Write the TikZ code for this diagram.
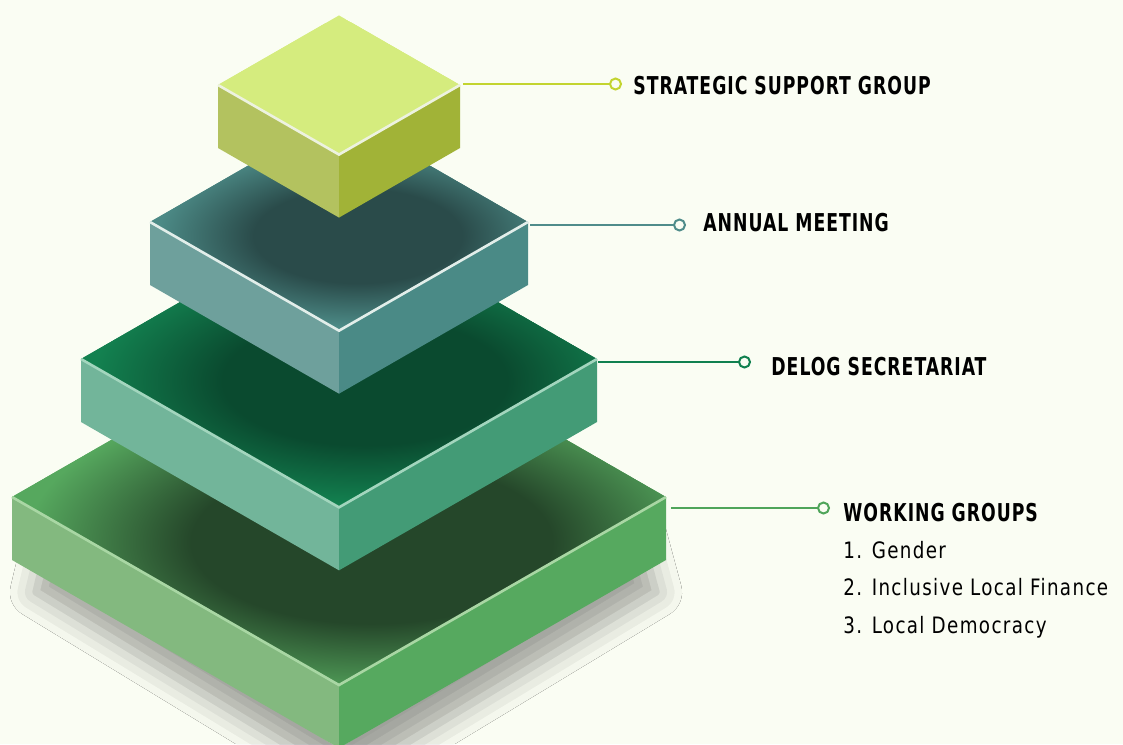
\documentclass[tikz,border=0pt]{standalone}
\usepackage{fontspec}
\setmainfont{DejaVu Sans Condensed}
\newfontfamily\headfont[LetterSpace=4,FakeStretch=0.78]{DejaVu Sans Condensed}
\newfontfamily\itemfont[LetterSpace=6,FakeStretch=0.9]{DejaVu Sans Condensed}
\usetikzlibrary{positioning,shadows.blur}

\definecolor{paper}{HTML}{FAFDF3}
% top slab
\definecolor{yeltop}{HTML}{D5EC7E}
\definecolor{yeldark}{HTML}{D5EC7E}
\definecolor{yelleft}{HTML}{B3C25F}
\definecolor{yelright}{HTML}{A1B337}
\definecolor{yeledge}{HTML}{EDF2E0}
\definecolor{yelline}{HTML}{C3D42F}
% second slab
\definecolor{teatop}{HTML}{4C8A86}
\definecolor{teadark}{HTML}{2A4B4A}
\definecolor{tealeft}{HTML}{6EA09C}
\definecolor{tearight}{HTML}{4A8A86}
\definecolor{teaedge}{HTML}{E2EEEA}
\definecolor{tealine}{HTML}{4F8C8A}
% third slab
\definecolor{dgrtop}{HTML}{138150}
\definecolor{dgrdark}{HTML}{0A4A2F}
\definecolor{dgrleft}{HTML}{72B59A}
\definecolor{dgrright}{HTML}{439B76}
\definecolor{dgredge}{HTML}{A3D6BE}
\definecolor{dgrline}{HTML}{10804F}
% base slab
\definecolor{lgrtop}{HTML}{56A85E}
\definecolor{lgrdark}{HTML}{25472A}
\definecolor{lgrleft}{HTML}{83B97F}
\definecolor{lgrright}{HTML}{56A95F}
\definecolor{lgredge}{HTML}{A9D7A4}
\definecolor{lgrline}{HTML}{4FA55A}

% the path's edge sits at 25bp of the shading
\pgfdeclareradialshading[glowdark,glowbase]{slabglow}{\pgfpoint{0bp}{0bp}}{%
  color(0bp)=(glowdark); color(12bp)=(glowdark); color(23bp)=(glowbase); color(50bp)=(glowbase)}

% isometric slab: #1 centre y, #2 half width, #3 colour prefix, #4 glow offset
\newcommand{\isoslab}[4]{%
  \pgfmathsetmacro{\hh}{0.575*#2}
  \coordinate (#3-l) at (339-#2,#1);
  \coordinate (#3-b) at (339,#1-\hh);
  \coordinate (#3-r) at (339+#2,#1);
  \coordinate (#3-f) at (339,#1+\hh);
  \fill[#3left] (#3-l) -- (#3-f) -- ++(0,63) -- (339-#2,#1+63) -- cycle;
  \fill[#3right] (#3-f) -- (#3-r) -- ++(0,63) -- (339,#1+\hh+63) -- cycle;
  \begin{scope}
    \clip (#3-l) -- (#3-b) -- (#3-r) -- (#3-f) -- cycle;
    \fill[#3top] (#3-l) -- (#3-b) -- (#3-r) -- (#3-f) -- cycle;
    \colorlet{glowdark}{#3dark}\colorlet{glowbase}{#3top}
    \shade[shading=slabglow] (339+0.1*#2,#1+#4) ellipse [x radius={0.575*#2 pt}, y radius={0.26*#2 pt}];
  \end{scope}
  \draw[#3edge, line width=1.3pt, line join=miter] (#3-l) -- (#3-f) -- (#3-r);
}

\begin{document}
\begin{tikzpicture}[
  x=0.5pt, y=-0.5pt,
  dot/.style={circle, draw, line width=1pt, fill=paper, minimum size=5.5pt, inner sep=0pt},
  lead/.style={line width=1pt},
  head/.style={font=\headfont\bfseries\fontsize{12.3}{14}\selectfont, inner sep=0pt, anchor=west},
  items/.style={font=\itemfont\fontsize{11.3}{18.75}\selectfont, inner sep=0pt, align=left, anchor=north west}
]
\fill[paper] (0,0) rectangle (1123,744);
\useasboundingbox (0,0) rectangle (1123,744);

% drop shadow under the base slab
\fill[paper, blur shadow={shadow xshift=3pt, shadow yshift=-16pt, shadow blur radius=13pt, shadow opacity=36}]
  (45,497) -- (339,330) -- (633,497) -- (650,560) -- (339,748) -- (30,560) -- cycle;

\isoslab{497}{327}{lgr}{45}
\isoslab{359}{258}{dgr}{22}
\isoslab{222}{189}{tea}{14}
\isoslab{85}{121}{yel}{0}

% leaders
\coordinate (a1) at (463,84);
\coordinate (a2) at (530,225);
\coordinate (a3) at (598,362);
\coordinate (a4) at (671,508);
\node[dot, draw=yelline, right=73pt of a1] (d1) {};
\node[dot, draw=tealine, right=71.5pt of a2] (d2) {};
\node[dot, draw=dgrline, right=70pt of a3] (d3) {};
\node[dot, draw=lgrline, right=73pt of a4] (d4) {};
\draw[lead, yelline] (a1) -- (d1);
\draw[lead, tealine] (a2) -- (d2);
\draw[lead, dgrline] (a3) -- (d3);
\draw[lead, lgrline] (a4) -- (d4);

\node[head, right=5.5pt of d1, yshift=-1pt] (ssg) {STRATEGIC SUPPORT GROUP};
\node[head, right=8.5pt of d2, yshift=1pt] (meet) {ANNUAL MEETING};
\node[head, right=10pt of d3, yshift=-2.5pt] (sec) {DELOG SECRETARIAT};
\node[head, right=6.5pt of d4, yshift=-2.5pt] (wg) {WORKING GROUPS};
\node[items] (wglist) at ([yshift=-9pt]wg.south west) {1. Gender\\2. Inclusive Local Finance\\3. Local Democracy};
\end{tikzpicture}
\end{document}
